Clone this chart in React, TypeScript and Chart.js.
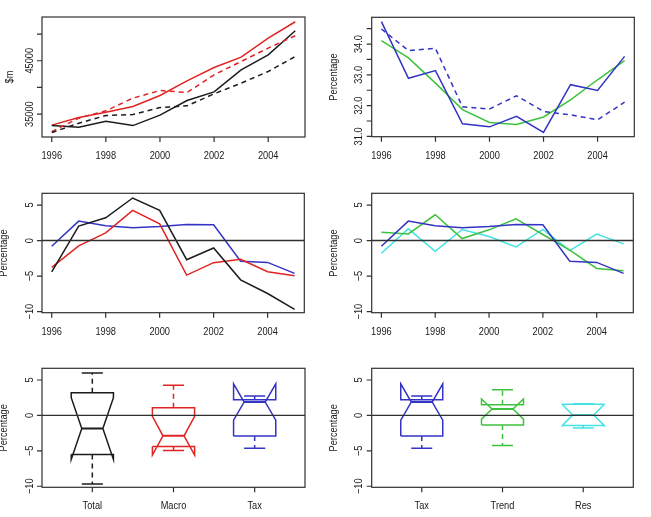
import React, { useEffect, useRef } from "react";
import { Chart, registerables } from "chart.js";

Chart.register(...registerables);

// ---- data -------------------------------------------------------------
const years = [1996, 1997, 1998, 1999, 2000, 2001, 2002, 2003, 2004, 2005];
const yearTicks = [1996, 1998, 2000, 2002, 2004];

// Revenue, $m
const totalActual = [32860, 32560, 33690, 32860, 34810, 37550, 39180, 43310, 46120, 50620];
const totalBase = [31550, 33310, 34740, 34930, 36240, 36560, 38810, 40810, 42990, 45800];
const macroActual = [32940, 34360, 35375, 36425, 38490, 41240, 43740, 45690, 49250, 52310];
const macroBase = [31740, 34250, 35620, 38000, 39430, 39050, 42370, 44860, 47380, 49680];
const revenueTicks = [35000, 40000, 45000, 50000];
const revenueTickLabels = ["35000", null, "45000", null];

// Tax ratio, percentage
const taxRatio = [34.73, 32.89, 33.14, 31.41, 31.31, 31.65, 31.13, 32.68, 32.49, 33.6];
const taxRatioAlt = [34.49, 33.79, 33.86, 31.96, 31.89, 32.32, 31.81, 31.7, 31.54, 32.11];
const taxRatioTrend = [34.11, 33.55, 32.73, 31.87, 31.45, 31.39, 31.63, 32.19, 32.84, 33.46];
const ratioTicks = [31, 31.5, 32, 32.5, 33, 33.5, 34, 34.5];
const ratioTickLabels = ["31.0", null, "32.0", null, "33.0", null, "34.0", null];

// Forecast gaps, percentage
const totalGap = [-4.39, 2.03, 3.21, 5.99, 4.25, -2.69, -1.04, -5.52, -7.45, -9.67];
const macroGap = [-3.77, -0.75, 1.08, 4.25, 2.36, -4.86, -3.11, -2.64, -4.39, -4.95];
const taxGap = [-0.8, 2.74, 2.08, 1.79, 1.98, 2.26, 2.22, -2.92, -3.07, -4.62];
const trendGap = [1.18, 0.94, 3.63, 0.28, 1.51, 3.07, 0.85, -1.35, -3.92, -4.25];
const resGap = [-1.79, 1.65, -1.51, 1.56, 0.57, -0.9, 1.56, -1.42, 0.9, -0.47];
const gapTicks = [-10, -5, 0, 5];
const gapTickLabels = ["\u221210", "\u22125", "0", "5"];

const leftBoxNames = ["Total", "Macro", "Tax"];
const rightBoxNames = ["Tax", "Trend", "Res"];

// ---- styling -----------------------------------------------------------
const C = {
  black: "#1c1c1c",
  red: "#e02424",
  blue: "#3434c4",
  green: "#3ec23e",
  cyan: "#44e2e2",
  frame: "#303030",
  text: "#202020",
};
const FONT = '11px "Liberation Sans", Arial, sans-serif';
const SQUEEZE = 0.84;
const DASH = [5, 4];

type LineSpec = { values: number[]; color: string; dash?: number[] };
type BoxSpec = { values: number[]; color: string };
type Rect = { l: number; t: number; r: number; b: number };
type PanelSpec = {
  canvas: { x: number; y: number; w: number; h: number };
  area: Rect;
  xMin: number;
  xMax: number;
  yMin: number;
  yMax: number;
  xTicks: number[];
  xLabels: string[];
  yTicks: number[];
  yLabels: (string | null)[];
  title: string;
  titleOffset: number;
  zeroLine: boolean;
  lines?: LineSpec[];
  boxes?: BoxSpec[];
};

const yearXMin = 1995.64;
const yearXMax = 2005.36;
const gapMin = -10.15;
const gapMax = 6.65;

const panels: PanelSpec[] = [
  {
    canvas: { x: 0, y: 0, w: 325, h: 172 },
    area: { l: 42, t: 17, r: 305, b: 137 },
    xMin: yearXMin, xMax: yearXMax, yMin: 30720, yMax: 53200,
    xTicks: yearTicks, xLabels: yearTicks.map(String),
    yTicks: revenueTicks, yLabels: revenueTickLabels,
    title: "$m", titleOffset: 32, zeroLine: false,
    lines: [
      { values: totalBase, color: C.black, dash: DASH },
      { values: macroBase, color: C.red, dash: DASH },
      { values: totalActual, color: C.black },
      { values: macroActual, color: C.red },
    ],
  },
  {
    canvas: { x: 325, y: 0, w: 326, h: 172 },
    area: { l: 371.7, t: 17.3, r: 634.3, b: 136.7 },
    xMin: yearXMin, xMax: yearXMax, yMin: 30.99, yMax: 34.87,
    xTicks: yearTicks, xLabels: yearTicks.map(String),
    yTicks: ratioTicks, yLabels: ratioTickLabels,
    title: "Percentage", titleOffset: 38, zeroLine: false,
    lines: [
      { values: taxRatioAlt, color: C.blue, dash: DASH },
      { values: taxRatio, color: C.blue },
      { values: taxRatioTrend, color: C.green },
    ],
  },
  {
    canvas: { x: 0, y: 172, w: 325, h: 172 },
    area: { l: 42, t: 193.3, r: 304.3, b: 312.7 },
    xMin: yearXMin, xMax: yearXMax, yMin: gapMin, yMax: gapMax,
    xTicks: yearTicks, xLabels: yearTicks.map(String),
    yTicks: gapTicks, yLabels: gapTickLabels,
    title: "Percentage", titleOffset: 38, zeroLine: true,
    lines: [
      { values: totalGap, color: C.black },
      { values: macroGap, color: C.red },
      { values: taxGap, color: C.blue },
    ],
  },
  {
    canvas: { x: 325, y: 172, w: 326, h: 172 },
    area: { l: 371.7, t: 193.3, r: 633.3, b: 312.7 },
    xMin: yearXMin, xMax: yearXMax, yMin: gapMin, yMax: gapMax,
    xTicks: yearTicks, xLabels: yearTicks.map(String),
    yTicks: gapTicks, yLabels: gapTickLabels,
    title: "Percentage", titleOffset: 38, zeroLine: true,
    lines: [
      { values: taxGap, color: C.blue },
      { values: trendGap, color: C.green },
      { values: resGap, color: C.cyan },
    ],
  },
  {
    canvas: { x: 0, y: 344, w: 325, h: 173 },
    area: { l: 42, t: 368.3, r: 305, b: 487.3 },
    xMin: 0.38, xMax: 3.62, yMin: gapMin, yMax: gapMax,
    xTicks: [1, 2, 3], xLabels: leftBoxNames,
    yTicks: gapTicks, yLabels: gapTickLabels,
    title: "Percentage", titleOffset: 38, zeroLine: true,
    boxes: [
      { values: totalGap, color: C.black },
      { values: macroGap, color: C.red },
      { values: taxGap, color: C.blue },
    ],
  },
  {
    canvas: { x: 325, y: 344, w: 326, h: 173 },
    area: { l: 371.7, t: 368.3, r: 633.3, b: 487.3 },
    xMin: 0.38, xMax: 3.62, yMin: gapMin, yMax: gapMax,
    xTicks: [1, 2, 3], xLabels: rightBoxNames,
    yTicks: gapTicks, yLabels: gapTickLabels,
    title: "Percentage", titleOffset: 38, zeroLine: true,
    boxes: [
      { values: taxGap, color: C.blue },
      { values: trendGap, color: C.green },
      { values: resGap, color: C.cyan },
    ],
  },
];

// Tukey five-number summary (min, lower hinge, median, upper hinge, max)
function fivenum(v: number[]): number[] {
  const s = [...v].sort((a, b) => a - b);
  const n = s.length;
  const n4 = Math.floor((n + 3) / 2) / 2;
  const d = [1, n4, (n + 1) / 2, n + 1 - n4, n];
  return d.map((i) => 0.5 * (s[Math.floor(i) - 1] + s[Math.ceil(i) - 1]));
}

const BOX_HALF = 0.26;
const NOTCH_FRAC = 0.5;
const STAPLE_FRAC = 0.5;

function boxDatasets(box: BoxSpec, center: number) {
  const [lo, q1, med, q3, hi] = fivenum(box.values);
  const ci = (1.58 * (q3 - q1)) / Math.sqrt(box.values.length);
  const cLo = med - ci;
  const cHi = med + ci;
  const w = BOX_HALF;
  const c = center;
  const seg = (pts: [number, number][], dash?: number[], width = 1.5) => ({
    data: pts.map(([x, y]) => ({ x, y })),
    borderColor: box.color,
    borderWidth: width,
    borderDash: dash || [],
    pointRadius: 0,
    fill: false,
    tension: 0,
  });
  return [
    seg([
      [c - w, q1], [c + w, q1], [c + w, cLo], [c + w * NOTCH_FRAC, med], [c + w, cHi],
      [c + w, q3], [c - w, q3], [c - w, cHi], [c - w * NOTCH_FRAC, med], [c - w, cLo], [c - w, q1],
    ]),
    seg([[c - w * NOTCH_FRAC, med], [c + w * NOTCH_FRAC, med]], undefined, 2),
    seg([[c, q3], [c, hi]], DASH),
    seg([[c, q1], [c, lo]], DASH),
    seg([[c - w * STAPLE_FRAC, hi], [c + w * STAPLE_FRAC, hi]]),
    seg([[c - w * STAPLE_FRAC, lo], [c + w * STAPLE_FRAC, lo]]),
  ];
}

function drawText(
  ctx: CanvasRenderingContext2D, s: string, x: number, y: number, rot: number,
  align: CanvasTextAlign, baseline: CanvasTextBaseline,
) {
  ctx.save();
  ctx.translate(x, y);
  ctx.rotate(rot);
  ctx.scale(SQUEEZE, 1);
  ctx.font = FONT;
  ctx.fillStyle = C.text;
  ctx.textAlign = align;
  ctx.textBaseline = baseline;
  ctx.fillText(s, 0, 0);
  ctx.restore();
}

function Panel({ spec }: { spec: PanelSpec }) {
  const ref = useRef<HTMLCanvasElement | null>(null);

  useEffect(() => {
    const canvas = ref.current;
    if (!canvas) return;
    const { canvas: cv, area } = spec;
    const L = area.l - cv.x;
    const T = area.t - cv.y;
    const R = area.r - cv.x;
    const B = area.b - cv.y;

    const datasets: any[] = [];
    if (spec.lines) {
      spec.lines.forEach((ln) =>
        datasets.push({
          data: years.map((yr, i) => ({ x: yr, y: ln.values[i] })),
          borderColor: ln.color,
          borderWidth: 1.5,
          borderDash: ln.dash || [],
          pointRadius: 0,
          fill: false,
          tension: 0,
        }),
      );
    }
    if (spec.boxes) {
      spec.boxes.forEach((bx, i) => datasets.push(...boxDatasets(bx, i + 1)));
    }

    const framePlugin = {
      id: "rframe",
      afterDatasetsDraw(chart: any) {
        if (!spec.zeroLine) return;
        const ctx = chart.ctx as CanvasRenderingContext2D;
        const ca = chart.chartArea;
        const y0 = chart.scales.y.getPixelForValue(0);
        ctx.save();
        ctx.strokeStyle = C.frame;
        ctx.lineWidth = 1.4;
        ctx.beginPath();
        ctx.moveTo(ca.left, y0);
        ctx.lineTo(ca.right, y0);
        ctx.stroke();
        ctx.restore();
      },
      afterDraw(chart: any) {
        const ctx = chart.ctx as CanvasRenderingContext2D;
        const ca = chart.chartArea;
        const xs = chart.scales.x;
        const ys = chart.scales.y;
        ctx.save();
        ctx.strokeStyle = C.frame;
        ctx.lineWidth = 1.2;
        ctx.strokeRect(ca.left, ca.top, ca.right - ca.left, ca.bottom - ca.top);
        ctx.beginPath();
        spec.xTicks.forEach((v) => {
          const px = xs.getPixelForValue(v);
          ctx.moveTo(px, ca.bottom);
          ctx.lineTo(px, ca.bottom + 5);
        });
        spec.yTicks.forEach((v) => {
          const py = ys.getPixelForValue(v);
          ctx.moveTo(ca.left, py);
          ctx.lineTo(ca.left - 5, py);
        });
        ctx.stroke();
        ctx.restore();

        spec.xTicks.forEach((v, i) => {
          drawText(ctx, spec.xLabels[i], xs.getPixelForValue(v), ca.bottom + 22, 0, "center", "alphabetic");
        });
        spec.yTicks.forEach((v, i) => {
          const lab = spec.yLabels[i];
          if (lab) drawText(ctx, lab, ca.left - 9.5, ys.getPixelForValue(v), -Math.PI / 2, "center", "alphabetic");
        });
        drawText(
          ctx, spec.title, ca.left - spec.titleOffset, (ca.top + ca.bottom) / 2,
          -Math.PI / 2, "center", "middle",
        );
      },
    };

    const chart = new Chart(canvas, {
      type: "line",
      data: { datasets },
      options: {
        responsive: false,
        animation: false,
        events: [],
        layout: { padding: { top: T, right: cv.w - R, left: 0, bottom: 0 } },
        plugins: { legend: { display: false }, tooltip: { enabled: false } },
        scales: {
          x: {
            type: "linear",
            min: spec.xMin,
            max: spec.xMax,
            grid: { display: false },
            border: { display: false },
            ticks: { display: false },
            afterFit: (s: any) => {
              s.height = cv.h - B;
            },
          },
          y: {
            type: "linear",
            min: spec.yMin,
            max: spec.yMax,
            grid: { display: false },
            border: { display: false },
            ticks: { display: false },
            afterFit: (s: any) => {
              s.width = L;
            },
          },
        },
      } as any,
      plugins: [framePlugin],
    });
    return () => chart.destroy();
  }, [spec]);

  return (
    <canvas
      ref={ref}
      width={spec.canvas.w}
      height={spec.canvas.h}
      style={{ position: "absolute", left: spec.canvas.x, top: spec.canvas.y }}
    />
  );
}

export default function App() {
  return (
    <div
      style={{
        position: "absolute",
        left: 0,
        top: 0,
        width: 651,
        height: 517,
        background: "#ffffff",
        overflow: "hidden",
      }}
    >
      {panels.map((p, i) => (
        <Panel key={i} spec={p} />
      ))}
    </div>
  );
}
